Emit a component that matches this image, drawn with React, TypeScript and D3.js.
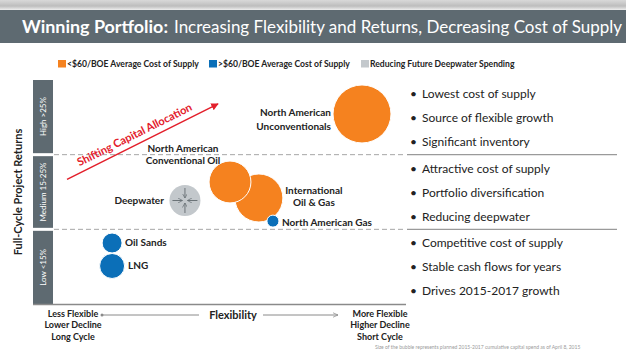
import React from "react";
import * as d3 from "d3";

// Bubble data: flexibility (0-10), returns row position (0-3), planned capex ($B)
const bubbleNames = [
  "North American Unconventionals",
  "International Oil & Gas",
  "North American Conventional Oil",
  "North American Gas",
  "Deepwater",
  "Oil Sands",
  "LNG",
];
const bubbleFlex = [8.75, 5.82, 5.0, 6.22, 3.72, 1.65, 1.65];
const bubbleReturn = [2.545, 1.42, 1.634, 1.11, 1.386, 0.817, 0.509];
const bubbleCapex = [14, 9.6, 7.3, 0.6, 4.0, 1.66, 2.6];
const bubbleGroup = ["low", "low", "low", "high", "deep", "high", "high"];

const rowLabels = ["Low <15%", "Medium 15-25%", "High >25%"];

const legendLabels = [
  "<$60/BOE Average Cost of Supply",
  ">$60/BOE Average Cost of Supply",
  "Reducing Future Deepwater Spending",
];
const legendKeys = ["low", "high", "deep"];

const bulletsLow = ["Competitive cost of supply", "Stable cash flows for years", "Drives 2015-2017 growth"];
const bulletsMedium = ["Attractive cost of supply", "Portfolio diversification", "Reducing deepwater"];
const bulletsHigh = ["Lowest cost of supply", "Source of flexible growth", "Significant inventory"];

const flexLeft = ["Less Flexible", "Lower Decline", "Long Cycle"];
const flexRight = ["More Flexible", "Higher Decline", "Short Cycle"];

const arrowFrom = [0.37, 1.67];
const arrowTo = [4.66, 2.68];

const COLORS: Record<string, string> = {
  low: "#f5821f",
  high: "#0b6fb8",
  deep: "#c3c8cc",
};

const FONT = "Lato, 'Open Sans', sans-serif";

// label placement relative to bubble (layout only)
const labelLayout: Record<string, { lines: string[]; dx: number; dy: number; anchor: string; lh: number }> = {
  "North American Unconventionals": { lines: ["North American", "Unconventionals"], dx: -31, dy: 9, anchor: "end", lh: 13.5 },
  "International Oil & Gas": { lines: ["International", "Oil & Gas"], dx: 55, dy: 2, anchor: "middle", lh: 11.5 },
  "North American Conventional Oil": { lines: ["North American", "Conventional Oil"], dx: -47, dy: -24, anchor: "middle", lh: 12.5 },
  "North American Gas": { lines: ["North American Gas"], dx: 9, dy: 4.5, anchor: "start", lh: 12 },
  Deepwater: { lines: ["Deepwater"], dx: -21, dy: 3.5, anchor: "end", lh: 12 },
  "Oil Sands": { lines: ["Oil Sands"], dx: 13, dy: 3.5, anchor: "start", lh: 12 },
  LNG: { lines: ["LNG"], dx: 16, dy: 3.5, anchor: "start", lh: 12 },
};

export default function App() {
  const width = 626;
  const height = 351;

  const x = d3.scaleLinear().domain([0, 10]).range([54, 406]);
  const y = d3.scaleLinear().domain([0, 3]).range([304, 80]);
  const r = d3.scaleSqrt().domain([0, 14]).range([0, 29]);

  const bubbles = bubbleNames.map((name, i) => ({
    name,
    cx: x(bubbleFlex[i]),
    cy: y(bubbleReturn[i]),
    r: r(bubbleCapex[i]),
    group: bubbleGroup[i],
  }));

  const bulletRows = [bulletsLow, bulletsMedium, bulletsHigh];

  const ax1 = x(arrowFrom[0]);
  const ay1 = y(arrowFrom[1]);
  const ax2 = x(arrowTo[0]);
  const ay2 = y(arrowTo[1]);
  const angle = (Math.atan2(ay2 - ay1, ax2 - ax1) * 180) / Math.PI;
  const len = Math.hypot(ax2 - ax1, ay2 - ay1);
  const ux = (ax2 - ax1) / len;
  const uy = (ay2 - ay1) / len;
  const midX = (ax1 + ax2) / 2 + uy * 6 - ux * 4;
  const midY = (ay1 + ay2) / 2 - ux * 6 - uy * 4;

  const legendX = [58, 209, 361];

  const headerGrad = "hdrGrad";

  return (
    <div style={{ position: "fixed", left: 0, top: 0 }}>
      <svg width={width} height={height} style={{ display: "block", background: "#fff", fontFamily: FONT }}>
        <defs>
          <linearGradient id={headerGrad} x1="0" y1="0" x2="0" y2="1">
            <stop offset="0%" stopColor="#d9d9d9" />
            <stop offset="60%" stopColor="#bdbdbd" />
            <stop offset="100%" stopColor="#eeeeee" />
          </linearGradient>
          <marker id="redHead" viewBox="0 0 10 10" refX="9" refY="5" markerWidth="5" markerHeight="5" orient="auto">
            <path d="M0,0 L10,5 L0,10 z" fill="#e3202c" />
          </marker>
          <marker id="grayHead" viewBox="0 0 10 10" refX="9" refY="5" markerWidth="6" markerHeight="6" orient="auto">
            <path d="M0,1 L9,5 L0,9" fill="none" stroke="#8a8a8a" strokeWidth="1.2" />
          </marker>
          <marker id="dwHead" viewBox="0 0 10 10" refX="9" refY="5" markerWidth="5" markerHeight="5" orient="auto">
            <path d="M0,0 L9,5 L0,10" fill="none" stroke="#6b7378" strokeWidth="1.5" />
          </marker>
        </defs>

        {/* header */}
        <rect x={0} y={0} width={width} height={10} fill={`url(#${headerGrad})`} />
        <rect x={0} y={10} width={width} height={33} fill="#5e6a71" />
        <text x={22} y={33} fill="#fff" fontSize={16.5} fontWeight="bold" textLength={146} lengthAdjust="spacingAndGlyphs">
          Winning Portfolio:
        </text>
        <text x={174} y={33} fill="#fff" fontSize={16.5} textLength={448} lengthAdjust="spacingAndGlyphs">
          Increasing Flexibility and Returns, Decreasing Cost of Supply
        </text>

        {/* legend */}
        {legendLabels.map((lab, i) => (
          <g key={lab}>
            <rect x={legendX[i]} y={60} width={8} height={7.5} fill={COLORS[legendKeys[i]]} />
            <text x={legendX[i] + 9} y={67} fontSize={8.6} fontWeight="bold" fill="#222">
              {lab}
            </text>
          </g>
        ))}

        {/* y axis title */}
        <text
          transform={`translate(22,${(y(0) + y(3)) / 2}) rotate(-90)`}
          textAnchor="middle"
          fontSize={11}
          fontWeight="bold"
          fill="#222"
        >
          Full-Cycle Project Returns
        </text>

        {/* row bands */}
        {rowLabels.map((lab, i) => {
          const top = y(i + 1) + (i === 2 ? 0 : 1.5);
          const bottom = y(i) - (i === 0 ? 0 : 1.5);
          return (
            <g key={lab}>
              <rect x={33} y={top} width={20} height={bottom - top} fill="#5e6a71" />
              <text
                transform={`translate(46,${(top + bottom) / 2}) rotate(-90)`}
                textAnchor="middle"
                fontSize={8}
                fill="#fff"
              >
                {lab}
              </text>
            </g>
          );
        })}

        {/* row dividers */}
        {[1, 2].map((v) => (
          <g key={v}>
            <line x1={54} x2={405} y1={y(v)} y2={y(v)} stroke="#a6a6a6" strokeWidth={1} strokeDasharray="5,3" />
            <line x1={407} x2={617} y1={y(v)} y2={y(v)} stroke="#9a9a9a" strokeWidth={1.3} />
          </g>
        ))}

        {/* x axis baseline */}
        <line x1={33} x2={406} y1={y(0) + 0.5} y2={y(0) + 0.5} stroke="#8a8a8a" strokeWidth={1.5} />

        {/* shifting capital allocation arrow */}
        <line x1={ax1} y1={ay1} x2={ax2} y2={ay2} stroke="#e3202c" strokeWidth={1.5} markerEnd="url(#redHead)" />
        <text
          transform={`translate(${midX},${midY}) rotate(${angle})`}
          textAnchor="middle"
          fontSize={11}
          fontWeight="bold"
          fill="#e3202c"
        >
          Shifting Capital Allocation
        </text>

        {/* bubbles */}
        {bubbles.map((b) => (
          <circle
            key={b.name}
            cx={b.cx}
            cy={b.cy}
            r={b.r}
            fill={COLORS[b.group]}
            stroke={b.group === "deep" ? "none" : "#fff"}
            strokeWidth={1}
          />
        ))}

        {/* deepwater inward arrows */}
        {bubbles
          .filter((b) => b.group === "deep")
          .map((b) =>
            [
              [-1, 0],
              [1, 0],
              [0, -1],
              [0, 1],
            ].map(([dx, dy], k) => (
              <line
                key={`dw${k}`}
                x1={b.cx + dx * (b.r - 3)}
                y1={b.cy + dy * (b.r - 3)}
                x2={b.cx + dx * 2.5}
                y2={b.cy + dy * 2.5}
                stroke="#6b7378"
                strokeWidth={1}
                markerEnd="url(#dwHead)"
              />
            ))
          )}

        {/* bubble labels */}
        {bubbles.map((b) => {
          const l = labelLayout[b.name];
          const n = l.lines.length;
          return (
            <text
              key={`lab-${b.name}`}
              x={b.cx + l.dx}
              y={b.cy + l.dy - ((n - 1) * l.lh) / 2}
              textAnchor={l.anchor as any}
              fontSize={10}
              fontWeight="bold"
              fill="#222"
            >
              {l.lines.map((t, j) => (
                <tspan key={j} x={b.cx + l.dx} dy={j === 0 ? 0 : l.lh}>
                  {t}
                </tspan>
              ))}
            </text>
          );
        })}

        {/* right side bullets */}
        {bulletRows.map((rows, i) =>
          rows.map((t, j) => {
            const yy = y(i + 1) + 18 + j * 24;
            return (
              <g key={t}>
                <text x={410} y={yy} fontSize={12} fill="#222">
                  •
                </text>
                <text x={422} y={yy} fontSize={12} fill="#222">
                  {t}
                </text>
              </g>
            );
          })
        )}

        {/* flexibility axis */}
        {[flexLeft, flexRight].map((lines, k) => (
          <text key={k} x={k === 0 ? 73 : 380} y={317} textAnchor="middle" fontSize={9} fontWeight="bold" fill="#222">
            {lines.map((t, j) => (
              <tspan key={j} x={k === 0 ? 73 : 380} dy={j === 0 ? 0 : 11.3}>
                {t}
              </tspan>
            ))}
          </text>
        ))}
        <circle cx={102} cy={315} r={1.5} fill="#8a8a8a" />
        <line x1={102} x2={199} y1={315} y2={315} stroke="#8a8a8a" strokeWidth={1} />
        <text x={233} y={319} textAnchor="middle" fontSize={11} fontWeight="bold" fill="#222">
          Flexibility
        </text>
        <line x1={263} x2={338} y1={315} y2={315} stroke="#8a8a8a" strokeWidth={1} markerEnd="url(#grayHead)" />

        {/* footnote */}
        <text x={375} y={349} fontSize={5} fill="#9a9a9a">
          Size of the bubble represents planned 2015-2017 cumulative capital spend as of April 8, 2015
        </text>
      </svg>
    </div>
  );
}
